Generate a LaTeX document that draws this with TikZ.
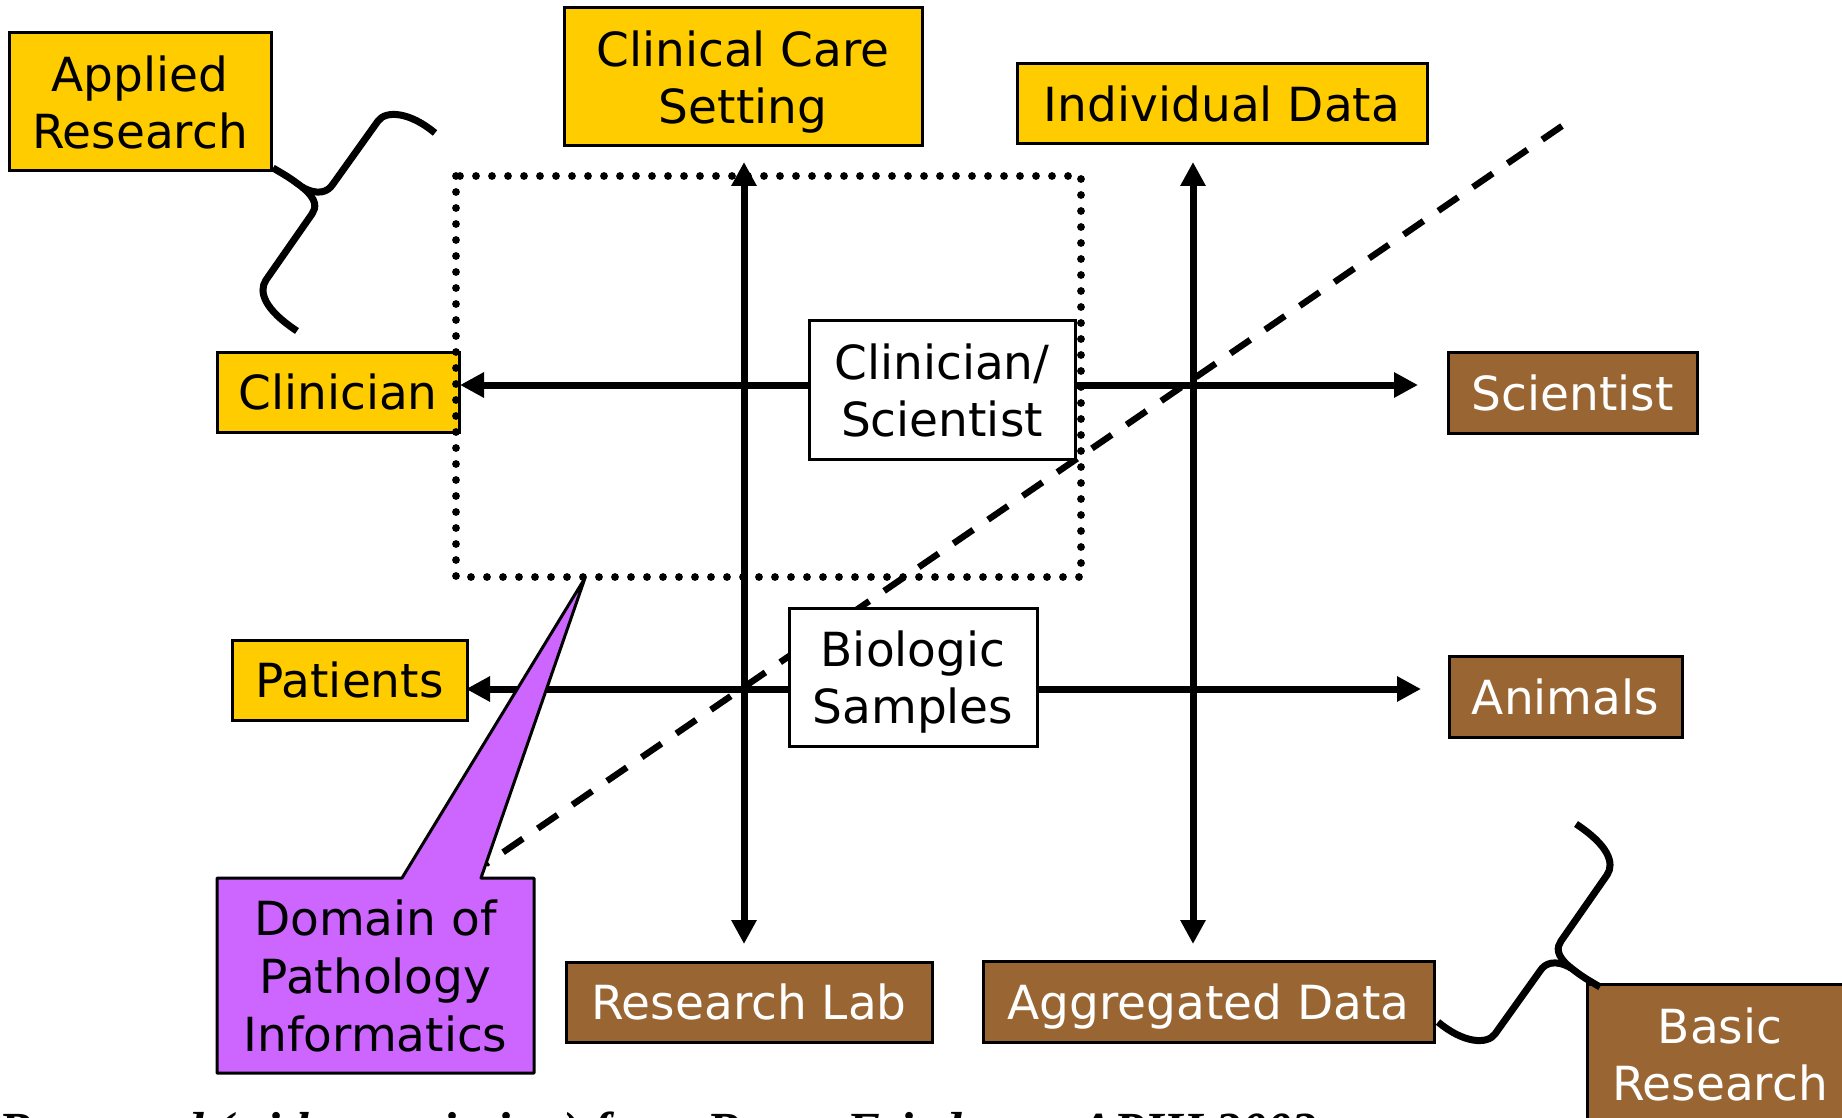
\documentclass[tikz,border=0pt]{standalone}
\usepackage{fontspec}
\setmainfont{DejaVu Sans}
\newfontfamily\creditfont{Liberation Serif}
\usetikzlibrary{arrows.meta}
\definecolor{gold}{HTML}{FFCC00}
\definecolor{brownbox}{HTML}{996633}
\definecolor{violetbox}{HTML}{CC66FF}
\begin{document}
\begin{tikzpicture}[x=0.5pt,y=-0.5pt,
  boxbase/.style={draw=black, line width=1.5pt, inner sep=0pt, align=center, text depth=0pt,
    font=\fontsize{23.5}{28.5}\selectfont},
  ybox/.style={boxbase, fill=gold},
  brbox/.style={boxbase, fill=brownbox, text=white},
  wbox/.style={boxbase, fill=white},
  biarrow/.style={line width=3.5pt,
    {Triangle[length=12pt,width=12pt]}-{Triangle[length=12pt,width=12pt]}},
  dashline/.style={line width=3.2pt, dash pattern=on 12pt off 9pt},
  dotline/.style={line width=3.9pt, line cap=round, dash pattern=on 0pt off 8pt},
  bracepath/.style={line width=3.5pt, line join=round},
]
\useasboundingbox (0,0) rectangle (1842,1118);
\clip (0,0) rectangle (1842,1118);

% diagonal dashed line
\coordinate (dashlow) at (486,864);
\coordinate (dashhigh) at (1562,126);
\draw[dashline] (dashhigh) -- (dashlow);

% arrow end points
\coordinate (v1t) at (744,162);
\coordinate (v1b) at (744,944);
\coordinate (v2t) at (1193,162);
\coordinate (v2b) at (1193,944);
\coordinate (h1l) at (460,385);
\coordinate (h1r) at (1418,385);
\coordinate (h2l) at (466,689);
\coordinate (h2r) at (1421,689);

\draw[biarrow] (v1t) -- (v1b);
\draw[biarrow] (v2t) -- (v2b);
\draw[biarrow] (h1l) -- (h1r);
\draw[biarrow] (h2l) -- (h2r);

% boxes
\node[ybox, minimum width=131pt, minimum height=69pt] (appl) at (140,102) {Applied\\Research};
\node[ybox, minimum width=179pt, minimum height=69pt] (ccs) at (743,77) {Clinical Care\\Setting};
\node[ybox, minimum width=205pt, minimum height=40pt] (ind) at (1222,104) {Individual Data};
\node[ybox, minimum width=121pt, minimum height=40pt] (clin) at (338,392) {Clinician};
\node[ybox, minimum width=117.5pt, minimum height=40pt] (pat) at (349.5,680) {Patients};
\node[brbox, minimum width=124.5pt, minimum height=40.5pt] (sci) at (1572.5,392.5) {Scientist};
\node[brbox, minimum width=116.5pt, minimum height=40.5pt] (ani) at (1565.5,696.5) {Animals};
\node[brbox, minimum width=183pt, minimum height=40pt] (rlab) at (749,1002) {Research Lab};
\node[brbox, minimum width=225.5pt, minimum height=40.5pt] (agg) at (1208.5,1001.5) {Aggregated Data};
\node[brbox, minimum width=133pt, minimum height=70.5pt] (basic) at (1720,1054.5) {Basic\\Research};
\node[wbox, minimum width=133pt, minimum height=69pt] (clinsci) at (942,390) {Clinician/\\Scientist};
\node[wbox, minimum width=124pt, minimum height=69pt] (bio) at (913,677) {Biologic\\Samples};

% dotted domain rectangle
\coordinate (domtl) at (456,176);
\coordinate (dombr) at (1081,577);
\draw[dotline] (domtl) rectangle (dombr);

% callout
\draw[line width=1.5pt, fill=violetbox, line join=round]
  (217,878) -- (402,878) -- (585,578) -- (481,878) -- (534,878) -- (534,1073) -- (217,1073) -- cycle;
\node[boxbase, draw=none, minimum width=158.5pt, minimum height=97.5pt,
  font=\fontsize{23.5}{29}\selectfont] (dom) at (375.5,975.5) {Domain of\\Pathology\\Informatics};

% braces
\begin{scope}[shift={(273,168)}]
  \draw[bracepath] (0,0) .. controls (17,10) .. (29,19) .. controls (45,28) and (55,24) .. (60,16)
    -- (105,-47) .. controls (113,-58) and (137,-56) .. (162,-35);
  \draw[bracepath] (29,19) .. controls (45,32) and (43,40) .. (39,46)
    -- (-7,112) .. controls (-15,124) and (-8,142) .. (24,163);
\end{scope}
\begin{scope}[shift={(1600,987)}, rotate=180]
  \draw[bracepath] (0,0) .. controls (17,10) .. (29,19) .. controls (45,28) and (55,24) .. (60,16)
    -- (105,-47) .. controls (113,-58) and (137,-56) .. (162,-35);
  \draw[bracepath] (29,19) .. controls (45,32) and (43,40) .. (39,46)
    -- (-7,112) .. controls (-15,124) and (-8,142) .. (24,163);
\end{scope}

% credit line (cut off by the lower edge)
\node[anchor=base west, inner sep=0pt, font=\creditfont\bfseries\itshape\fontsize{25.3}{30}\selectfont]
  (credit) at (-2,1147) {Borrowed (with permission) from Bruce Friedman, APIII 2003};
\end{tikzpicture}
\end{document}
